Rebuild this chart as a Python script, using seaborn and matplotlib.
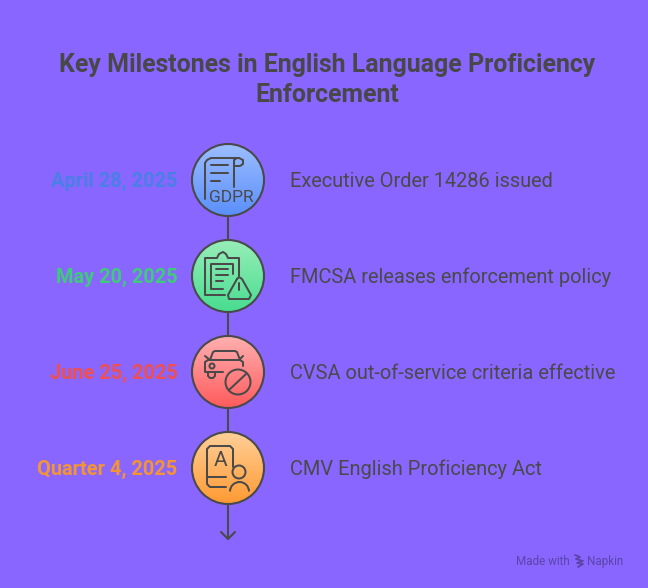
import numpy as np
import pandas as pd
import matplotlib
matplotlib.use("Agg")
import matplotlib.pyplot as plt
from matplotlib.colors import LinearSegmentedColormap
from matplotlib.patches import Circle, Arc
import seaborn as sns

# data
dates = ["April 28, 2025", "May 20, 2025", "June 25, 2025", "Quarter 4, 2025"]
events = [
    "Executive Order 14286 issued",
    "FMCSA releases enforcement policy",
    "CVSA out-of-service criteria effective",
    "CMV English Proficiency Act",
]
date_colors = ["#4a80e6", "#3ecb7a", "#ee4f50", "#f59432"]
grad_top = ["#9cbdff", "#98eeb8", "#ffb0b0", "#ffcf98"]
grad_bottom = ["#5a8ffb", "#48dd90", "#ff5b5c", "#ff9a33"]

BG = "#8866ff"
DARK = "#4a4a4a"

sns.set_theme(style="white", rc={"figure.facecolor": BG, "axes.facecolor": BG})
plt.rcParams["font.family"] = ["Roboto", "DejaVu Sans"]

fig, ax = plt.subplots(figsize=(6.48, 5.88), dpi=100)
fig.subplots_adjust(0, 0, 1, 1)

# layout in pixels
cx = 228
first_y = 180
step = 96
radius = 36

df = pd.DataFrame({"date": dates, "event": events})
df["x"] = cx
df["y"] = first_y + step * df.index

# spine running down from the first circle to the arrow
spine = pd.concat([df[["x", "y"]], pd.DataFrame({"x": [cx], "y": [538]})])
sns.lineplot(data=spine, x="x", y="y", estimator=None, sort=False,
             color=DARK, linewidth=1.5, ax=ax, zorder=1)
ax.plot([cx - 7, cx, cx + 7], [532, 539, 532], color=DARK, lw=1.5, zorder=1)

# gradient fills
for i, row in df.iterrows():
    cmap = LinearSegmentedColormap.from_list("g", [grad_top[i], grad_bottom[i]])
    im = ax.imshow(np.linspace(0, 1, 100).reshape(-1, 1), cmap=cmap, aspect="auto",
                   extent=(cx - radius, cx + radius, row.y + radius, row.y - radius), zorder=2)
    im.set_clip_path(Circle((cx, row.y), radius, transform=ax.transData))

# circle outlines
sns.scatterplot(data=df, x="x", y="y", s=(2 * radius * 0.72) ** 2, facecolor="none",
                edgecolor=DARK, linewidth=1.5, ax=ax, zorder=3, legend=False)

ax.set_xlim(0, 648)
ax.set_ylim(588, 0)
ax.set_axis_off()


def stroke(y0, pts, x0=cx, lw=1.45):
    xs = [x0 + p[0] for p in pts]
    ys = [y0 + p[1] for p in pts]
    ax.plot(xs, ys, color=DARK, lw=lw, zorder=4, solid_capstyle="round", solid_joinstyle="round")


def ring(y0, dx, dy, r, lw=1.45):
    ax.add_patch(Circle((cx + dx, y0 + dy), r, fill=False, ec=DARK, lw=lw, zorder=4))


# icon 1, document scroll
y0 = df.y[0]
stroke(y0, [(-23, 19), (-23, -17), (-21, -20), (-17, -22), (11, -22), (15, -20), (15, -16), (12, -14), (6, -14)])
stroke(y0, [(6, -14), (6, -20), (9, -22)])
stroke(y0, [(6, -14), (6, 7)])
stroke(y0, [(-17, -15), (0, -15)])
stroke(y0, [(-17, -7), (0, -7)])
stroke(y0, [(-17, 1), (-8, 1)])
ax.text(cx + 3, y0 + 17.5, "GDPR", color=DARK, fontsize=12.5, ha="center", va="center", zorder=4)

# icon 2, clipboard with warning
y0 = df.y[1]
stroke(y0, [(-3, 19), (-23, 19), (-23, -18), (-11, -18), (-9, -22), (-5, -24), (-2, -22), (0, -18), (11, -18), (11, 0)])
stroke(y0, [(-5, 13), (-17, 13), (-17, -12), (5, -12), (5, -2)])
stroke(y0, [(-12, -7), (0, -7)])
stroke(y0, [(-12, -1), (0, -1)])
stroke(y0, [(-12, 5), (-5, 5)])
stroke(y0, [(9, 3), (0, 19), (1, 23), (21, 23), (23, 19), (14, 3), (11, 1), (9, 3)])
stroke(y0, [(11, 7), (11, 14)])
stroke(y0, [(11, 18), (11, 18.4)], lw=1.8)

# icon 3, car with ban sign
y0 = df.y[2]
stroke(y0, [(-18, -12), (-15, -20), (-13, -21), (7, -21), (9, -20), (12, -12)])
stroke(y0, [(-5, 0), (-23, 0), (-23, -10), (-20, -12), (12, -12), (15, -10), (15, -6)])
stroke(y0, [(-23, -16), (-18, -12)])
stroke(y0, [(15, -16), (11, -12)])
stroke(y0, [(-20, 0), (-20, 4), (-18, 6), (-15, 6), (-13, 4), (-13, 0)])
ring(y0, -16, -6, 2.5)
ring(y0, 10, 10, 12.5)
stroke(y0, [(1, 18), (18, 2)])

# icon 4, phone with person
y0 = df.y[3]
stroke(y0, [(-2, 19), (-18, 19), (-21, 16), (-21, -19), (-18, -22), (2, -22), (5, -19), (5, -1)])
stroke(y0, [(-21, 9), (-2, 9)])
ax.text(cx - 7, y0 - 8, "A", color=DARK, fontsize=15, ha="center", va="center", zorder=4)
ring(y0, 11, 4, 6.5)
ax.add_patch(Arc((cx + 11.5, y0 + 23.5), 19, 19, theta1=180, theta2=360, color=DARK, lw=1.45, zorder=4))

# title
ax.text(327, 65, "Key Milestones in English Language Proficiency", color="#484848", fontsize=17.9,
        fontweight="bold", ha="center", va="center")
ax.text(327, 95, "Enforcement", color="#484848", fontsize=17.9, fontweight="bold", ha="center", va="center")

# labels either side, on a shared baseline
for i, row in df.iterrows():
    ax.text(177.5, row.y + 7, row.date, color=date_colors[i], fontsize=14.4, fontweight="bold", ha="right", va="baseline")
    ax.text(290, row.y + 7, row.event, color=DARK, fontsize=14.4, ha="left", va="baseline")

# footer
ax.text(516, 561.5, "Made with", color="#5a45a8", fontsize=8.4, ha="left", va="center")
ax.text(587, 561.5, "Napkin", color="#5a45a8", fontsize=8.4, ha="left", va="center")
ax.plot([575, 580, 576, 583, 577, 583, 578], [555, 557, 559, 561, 563, 564, 567], color="#5a45a8", lw=1.3)

fig.savefig("out.png", dpi=100, facecolor=BG)
